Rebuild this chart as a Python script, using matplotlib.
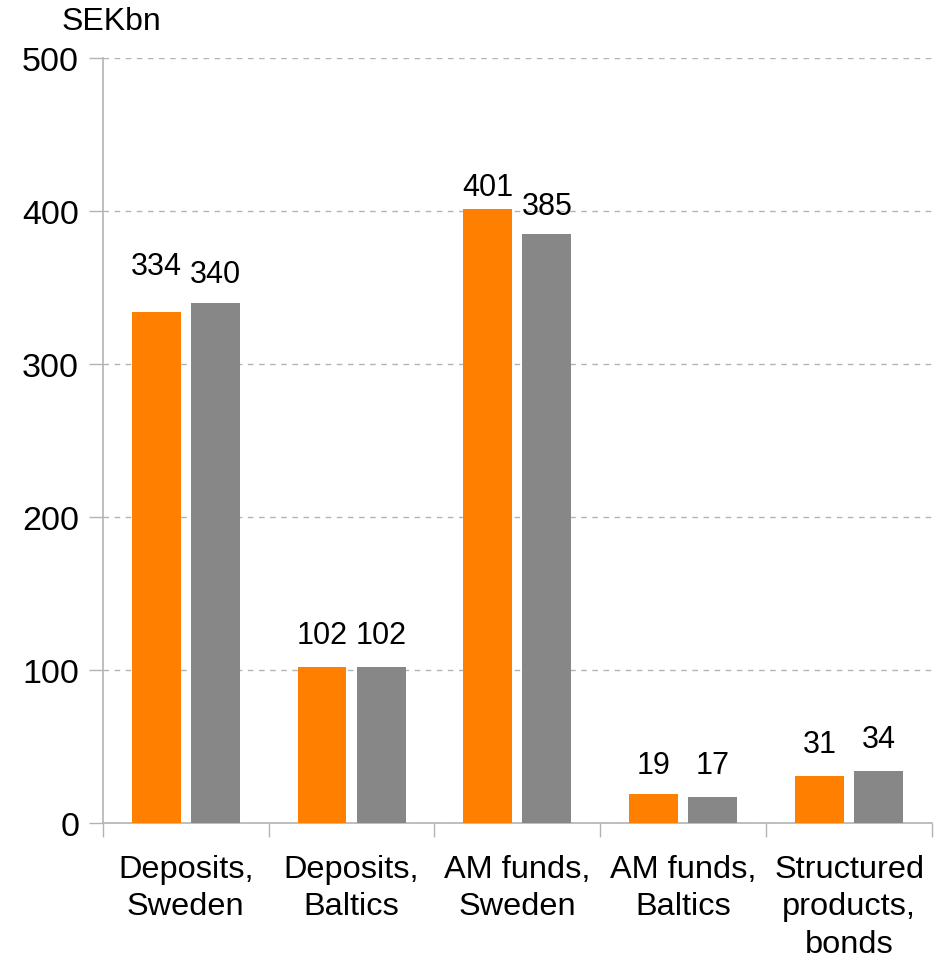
import matplotlib
matplotlib.use("Agg")
import matplotlib.pyplot as plt
import numpy as np

plt.rcParams['font.family'] = ['Liberation Sans', 'DejaVu Sans']

categories = ["Deposits,\nSweden", "Deposits,\nBaltics", "AM funds,\nSweden",
              "AM funds,\nBaltics", "Structured\nproducts,\nbonds"]
series_a = [334, 102, 401, 19, 31]
series_b = [340, 102, 385, 17, 34]
# vertical offsets (points) of the value labels above each bar
label_off_a = [22, 12, 5, 10, 12]
label_off_b = [10, 12, 9, 12, 12]

orange = "#FF8000"
grey = "#878787"
axis_grey = "#B3B3B3"

fig = plt.figure(figsize=(9.34, 9.62), dpi=100)
ax = fig.add_axes([0.110, 0.1435, 0.888, 0.7952])

x = np.arange(len(categories))
w = 0.295
off = 0.178
bars_a = ax.bar(x - off, series_a, width=w, color=orange, zorder=3)
bars_b = ax.bar(x + off, series_b, width=w, color=grey, zorder=3)

for bars, vals, offs in ((bars_a, series_a, label_off_a), (bars_b, series_b, label_off_b)):
    for b, v, o in zip(bars, vals, offs):
        ax.annotate(f"{v}", (b.get_x() + b.get_width() / 2, v),
                    xytext=(0, o), textcoords="offset points",
                    ha="center", va="bottom", fontsize=22)

ax.set_xlim(-0.5, len(categories) - 0.5)
ax.set_ylim(0, 500)
ax.set_yticks([0, 100, 200, 300, 400, 500])
ax.yaxis.grid(True, linestyle=(0, (4, 4)), color=axis_grey, linewidth=1)
ax.set_axisbelow(True)

ax.set_xticks(np.arange(-0.5, len(categories), 1.0))
ax.set_xticklabels([])
ax.set_xticks(x, minor=True)
ax.set_xticklabels(categories, minor=True, fontsize=23.4, linespacing=1.33)
ax.tick_params(axis="x", which="minor", length=0, pad=22)
ax.tick_params(axis="x", which="major", length=10, color=axis_grey, width=1)
ax.tick_params(axis="y", length=10, color=axis_grey, width=1, labelsize=24.5, pad=7)

for s in ("top", "right"):
    ax.spines[s].set_visible(False)
for s in ("left", "bottom"):
    ax.spines[s].set_color(axis_grey)
    ax.spines[s].set_linewidth(1.2)

fig.text(0.119, 0.977, "SEKbn", fontsize=23, ha="center", va="center")

fig.savefig("out.png", dpi=100)
